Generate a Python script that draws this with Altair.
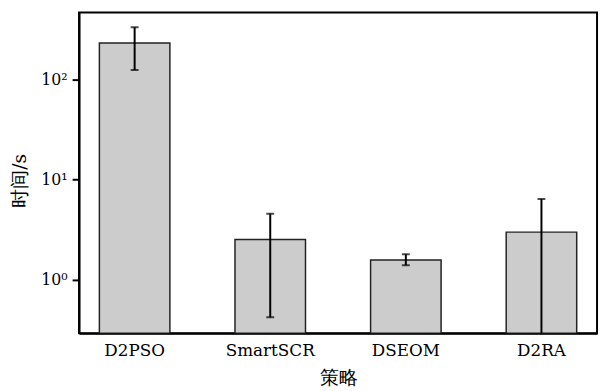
import altair as alt
import pandas as pd

strategies = ["D2PSO", "SmartSCR", "DSEOM", "D2RA"]
mean_time = [230.0, 2.53, 1.58, 2.99]
err_upper = [329.0, 4.56, 1.80, 6.40]
err_lower = [123.5, 0.423, 1.40, 0.05]

ytick_values = [1, 10, 100]
ytick_labels = ["10⁰", "10¹", "10²"]
y_domain = [0.294, 462]

df = pd.DataFrame({
    "strategy": strategies,
    "mean": mean_time,
    "upper": err_upper,
    "lower": err_lower,
})

label_expr = " : ".join(
    f"datum.value == {v} ? '{l}'" for v, l in zip(ytick_values, ytick_labels)
) + " : ''"

serif = "DejaVu Serif"

x = alt.X(
    "strategy:N",
    sort=strategies,
    scale=alt.Scale(paddingInner=0.48, paddingOuter=0.15),
    axis=alt.Axis(
        title="策略",
        labelAngle=0,
        ticks=False,
        labelFont=serif,
        titleFont=serif,
        labelFontSize=17,
        labelPadding=10,
        titleFontSize=19,
        titlePadding=10,
    ),
)

yscale = alt.Scale(type="log", domain=y_domain, nice=False)

bars = alt.Chart(df).mark_bar(
    fill="#cccccc", stroke="#222222", strokeWidth=1.5, clip=True
).encode(
    x=x,
    y=alt.Y(
        "mean:Q",
        scale=yscale,
        axis=alt.Axis(
            title="时间/s",
            values=ytick_values,
            labelExpr=label_expr,
            tickSize=7,
            tickWidth=2,
            labelFont=serif,
            titleFont=serif,
            labelFontSize=16,
            labelPadding=5,
            titleFontSize=19,
            titleX=-60,
            titleY=170,
            titleBaseline="middle",
            grid=False,
        ),
    ),
    y2=alt.datum(y_domain[0]),
)

rules = alt.Chart(df).mark_rule(color="black", strokeWidth=2, clip=True).encode(
    x=alt.X("strategy:N", sort=strategies),
    y="lower:Q",
    y2="upper:Q",
)

caps_up = alt.Chart(df).mark_tick(
    color="black", thickness=2, size=8, clip=True, orient="horizontal"
).encode(
    x=alt.X("strategy:N", sort=strategies),
    y="upper:Q",
)

caps_low = alt.Chart(df).mark_tick(
    color="black", thickness=2, size=8, clip=True, orient="horizontal"
).encode(
    x=alt.X("strategy:N", sort=strategies),
    y="lower:Q",
)

chart = alt.layer(bars, rules, caps_up, caps_low).properties(
    width=525,
    height=325,
    autosize=alt.AutoSizeParams(type="none"),
    padding={"left": 72, "top": 2, "right": 3, "bottom": 56},
).configure_view(
    stroke="black", strokeWidth=2
).configure_axis(
    domainColor="black",
    domainWidth=2,
    tickColor="black",
    labelColor="black",
    titleColor="black",
    labelFont=serif,
    titleFont=serif,
    titleFontWeight="normal",
    grid=False,
)

chart.save("out.html", embed_options={"renderer": "svg", "actions": False})
